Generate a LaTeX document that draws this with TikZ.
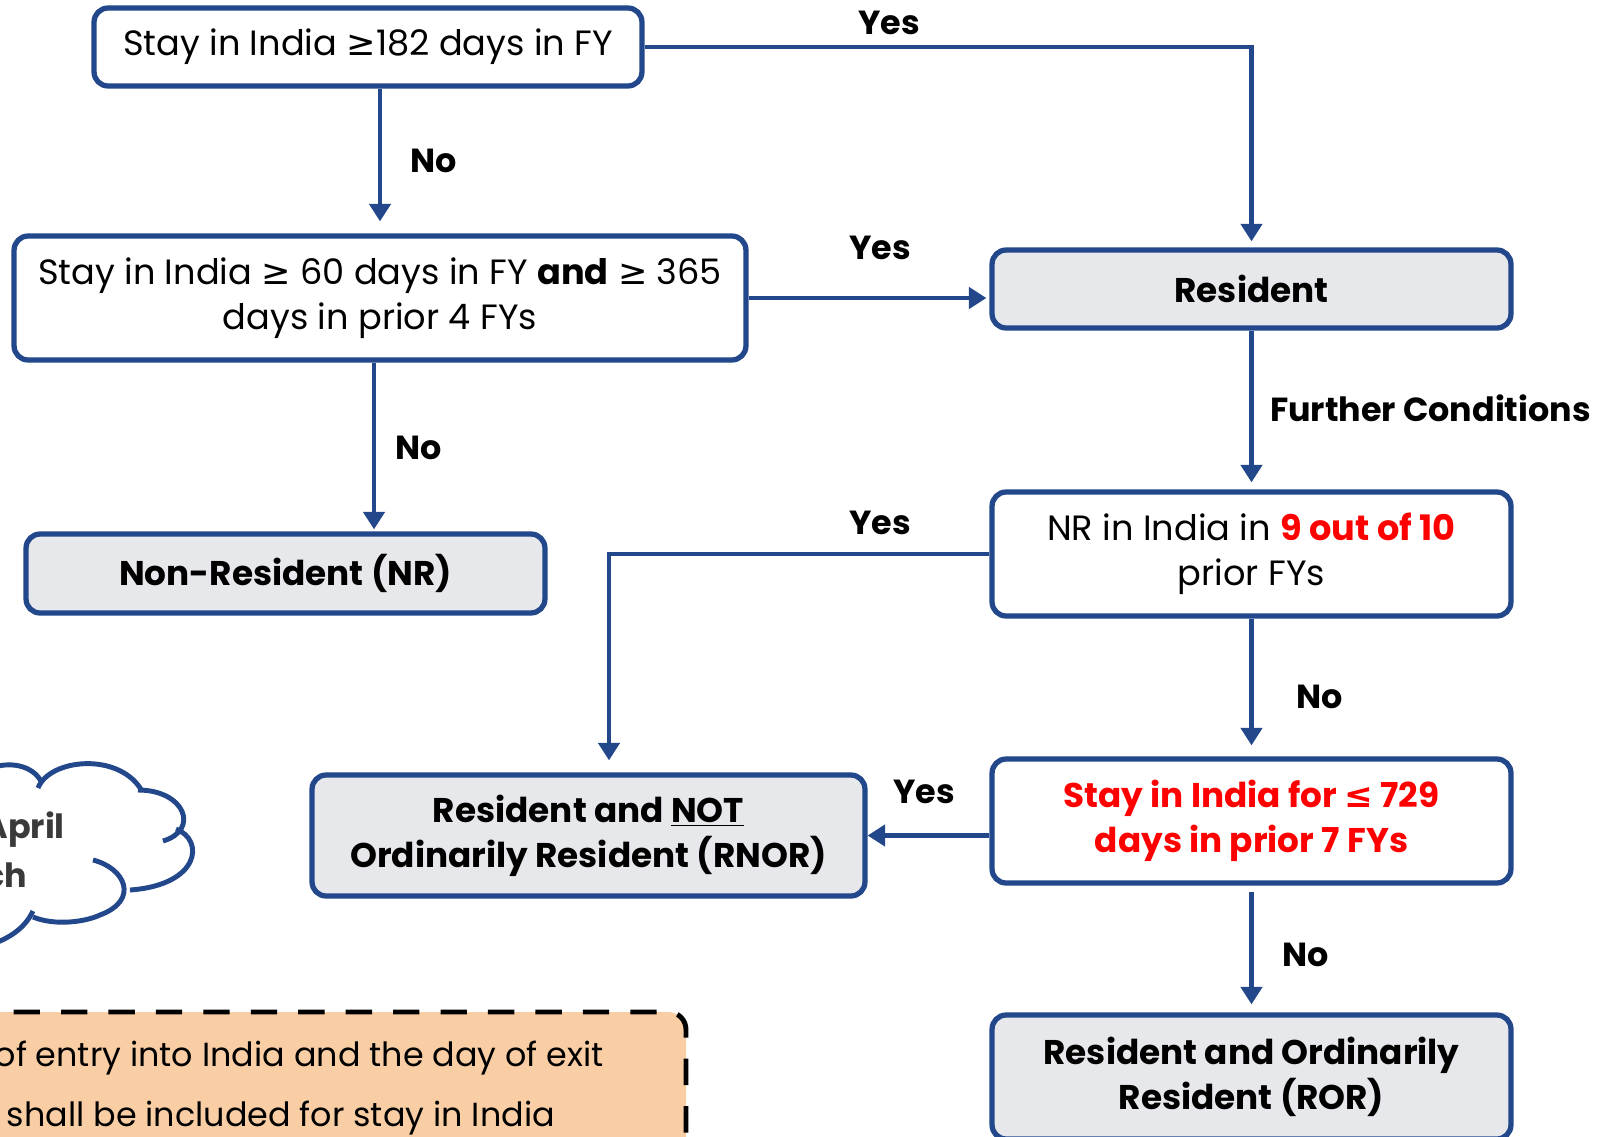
\documentclass[tikz,border=0pt]{standalone}
\usepackage{fontspec}
\setmainfont{Poppins}
\newfontfamily\symf{DejaVu Sans}
\usetikzlibrary{positioning,calc,arrows.meta}
\definecolor{flowBlue}{HTML}{22478A}
\definecolor{flowGray}{HTML}{E7E8EC}
\definecolor{flowRed}{HTML}{FF0000}
\definecolor{noteOrange}{HTML}{FACEA5}
\definecolor{cloudText}{HTML}{3A3A3A}
\newcommand{\gesym}{{\symf ≥}}
\newcommand{\lesym}{{\symf ≤}}

\begin{document}
\begin{tikzpicture}[
    x=0.02cm, y=-0.02cm,
    box/.style = {
      draw=flowBlue,
      fill=white,
      line width=3pt,
      rounded corners=8pt,
      inner sep=0pt,
      minimum width=10.38cm,
      align=center,
      font=\fontsize{20}{25.6}\selectfont
    },
    result/.style = {box, fill=flowGray, font=\fontsize{19.5}{25.6}\selectfont\bfseries},
    arrow/.style = {-{Triangle[width=12pt,length=10pt]}, line width=2.6pt, draw=flowBlue},
    lbl/.style = {font=\fontsize{19}{22}\selectfont\bfseries},
    cloudline/.style = {draw=flowBlue, line width=2.8pt}
  ]
\useasboundingbox (0,0) rectangle (1611,1136);
\clip (0,0) rectangle (1611,1136);

% note and cloud, cut by the page edge
\draw[dashed, dash pattern=on 15pt off 12pt, line width=2.8pt, fill=noteOrange, rounded corners=10pt]
  (-40,1012) rectangle (686,1200);
\node[anchor=east, font=\fontsize{19}{22}\selectfont] (note1) at (610,1058) {of entry into India and the day of exit};
\node[anchor=east, font=\fontsize{19}{22}\selectfont] (note2) at (561,1118) {n shall be included for stay in India};

\draw[cloudline] (-10,768) .. controls (15,760) and (35,768) .. (42,783);
\draw[cloudline] (38,788) .. controls (50,758) and (120,752) .. (142,791);
\draw[cloudline] (138,790) .. controls (185,790) and (200,830) .. (163,841);
\draw[cloudline] (176,829) .. controls (205,840) and (200,885) .. (130,890);
\draw[cloudline] (93,860) .. controls (125,868) and (140,900) .. (100,915) .. controls (85,922) and (55,926) .. (33,917);
\draw[cloudline] (33,911) .. controls (25,928) and (10,938) .. (-10,945);
\node[anchor=east, text=cloudText, lbl] (cloud1) at (71,830) {April};
\node[anchor=east, text=cloudText, lbl] (cloud2) at (33,875) {ch};

% boxes
\node[box, minimum width=10.96cm, minimum height=1.56cm] (stay182) at (368,47) {Stay in India \gesym182 days in FY};
\node[box, minimum width=14.64cm, minimum height=2.48cm] (stay60) at (380,298) {Stay in India \gesym{} 60 days in FY \textbf{and} \gesym{} 365\\days in prior 4 FYs};
\node[result, minimum height=1.58cm] (nr) at (285.5,573.5) {Non-Resident (NR)};
\node[result, minimum height=1.56cm] (res) at (1251.5,289) {Resident};
\node[box, minimum height=2.48cm] (nrindia) at (1251.5,554) {NR in India in \textcolor{flowRed}{\textbf{9 out of 10}}\\prior FYs};
\node[box, minimum height=2.48cm, text=flowRed, font=\fontsize{19.5}{25.6}\selectfont\bfseries] (stay729) at (1251.5,821) {Stay in India for \lesym{} 729\\days in prior 7 FYs};
\node[result, minimum width=11.06cm, minimum height=2.42cm] (rnor) at (588.5,835.5) {Resident and \underline{NOT}\\Ordinarily Resident (RNOR)};
\node[result, minimum height=2.48cm] (ror) at (1251.5,1077) {Resident and Ordinarily\\Resident (ROR)};

% connectors
\coordinate (nrfrom) at ($(stay60.south)+(-6,0)$);
\coordinate (rnorin) at ($(rnor.north)+(20.5,0)$);
\draw[arrow, shorten >=0.12cm] (stay182.east) -| (res.north);
\draw[arrow, shorten >=0.24cm] (stay60.north |- stay182.south) -- (stay60.north);
\draw[arrow, shorten >=0.06cm] (stay60.east) -- (stay60.east -| res.west);
\draw[arrow, shorten >=0.04cm] (nrfrom) -- (nrfrom |- nr.north);
\draw[arrow, shorten >=0.14cm] (res.south) -- (nrindia.north);
\draw[arrow, shorten >=0.24cm] (nrindia.west) -| (rnorin);
\draw[arrow, shorten >=0.22cm] (nrindia.south) -- (stay729.north);
\draw[arrow] (stay729.west |- rnor.east) -- (rnor.east);
\draw[arrow, shorten <=0.12cm, shorten >=0.16cm] (stay729.south) -- (ror.north);

% labels
\node[lbl] (yes1) at (889,23) {Yes};
\node[lbl] (no1) at (434,161) {No};
\node[lbl] (yes2) at (880,248) {Yes};
\node[lbl] (no2) at (419,448) {No};
\node[lbl, anchor=west] (further) at (1264,408) {Further Conditions};
\node[lbl] (yes3) at (880,523) {Yes};
\node[lbl] (no3) at (1320,697) {No};
\node[lbl] (yes4) at (924,792) {Yes};
\node[lbl] (no4) at (1306,955) {No};
\end{tikzpicture}
\end{document}
